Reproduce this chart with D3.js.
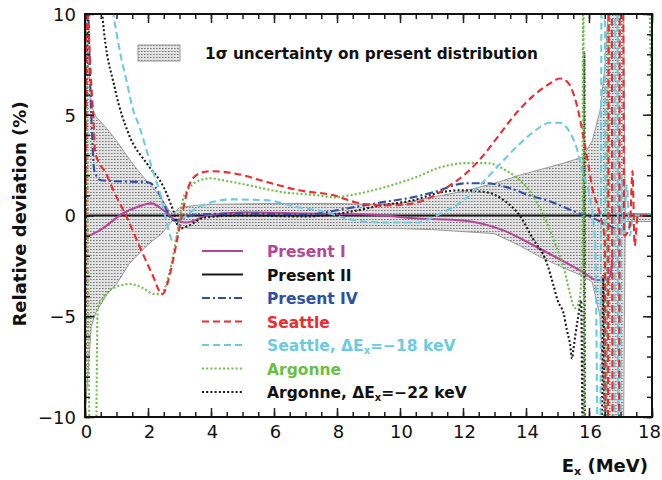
<!DOCTYPE html>
<html><head><meta charset="utf-8">
<script src="https://cdn.jsdelivr.net/npm/d3@7"></script>
<style>
body{margin:0;background:#fff;}
svg text{font-family:"DejaVu Sans",sans-serif;}
</style></head>
<body><svg id="c" width="662" height="480"></svg>
<script>
// ---------------- data ----------------
const xTicksMajor = [0,2,4,6,8,10,12,14,16,18];
const yTicksMajor = [-10,-5,0,5,10];

const bandX     = [0,0.2,0.35,0.7,1.0,1.4,1.8,2.1,2.4,2.65,2.8,3.0,3.5,4,6,8,9,10,11,12,13,13.8,14.5,15.2,15.8,16.1,16.35,16.5,16.6,17.1,17.15,18];
const bandUpper = [10,5.5,4.9,4.3,3.7,2.8,2.0,1.5,0.9,0.3,0.05,0.4,0.5,0.55,0.6,0.6,0.55,0.6,0.9,1.2,1.6,2.0,2.3,2.6,2.9,3.7,5.2,7.3,10,10,0.1,0.1];
const bandLower = [-10,-5.5,-4.8,-3.9,-3.4,-2.4,-1.75,-1.3,-0.95,-0.5,-0.2,-0.6,-0.65,-0.65,-0.65,-0.65,-0.65,-0.65,-0.7,-0.8,-0.9,-1.5,-2.1,-2.6,-3.0,-3.3,-5,-10,-10,-10,-0.3,-0.3];

const presentI = [[0,-1.1],[0.5,-0.7],[1.2,0.1],[1.7,0.45],[2.1,0.6],[2.5,0.25],[2.9,-0.25],[3.2,-0.35],[3.9,0],[5,0.15],[7,0.1],[9,0.05],[10.6,-0.15],[12,-0.25],[13.3,-0.75],[14.5,-1.7],[15.8,-2.8],[16.25,-3.2],[16.5,-3.2],[16.67,-3.0],[16.75,-2.0]];
const presentII = [[0,0],[18,0]];
const presentIV = [[0.1,10.5],[0.2,5],[0.3,2.2],[0.5,1.75],[1.0,1.7],[2.0,1.65],[2.3,1.25],[2.6,0.25],[2.8,-0.25],[3.1,-0.15],[3.5,0.05],[5,0.1],[7,0.05],[8.3,0.35],[9.4,0.65],[10.4,0.9],[11.05,1.15],[12.1,1.6],[12.76,1.6],[13.4,1.4],[14.1,1.0],[14.86,0.65],[15.3,0.35],[15.7,0.1],[16.0,-0.05],[16.5,-0.4],[16.9,-0.7]];
const seattle = [[0,-11],[0.05,11],[0.12,9],[0.2,6.5],[0.26,5],[0.32,3.2],[0.45,2.6],[0.63,2.2],[0.9,1.25],[1.33,-0.1],[1.75,-1.6],[2.13,-2.9],[2.45,-3.9],[2.7,-2.9],[2.9,-1.4],[3.1,0.2],[3.33,1.6],[3.65,2.1],[4.0,2.2],[4.7,2.1],[5.8,1.65],[6.8,1.25],[7.9,1.0],[8.6,0.65],[9.4,0.5],[10.2,0.55],[10.9,0.85],[11.5,1.4],[12.1,2.1],[12.6,2.9],[13.2,4.1],[13.7,5.1],[14.2,5.9],[14.76,6.55],[15.08,6.8],[15.33,6.6],[15.6,5.56],[15.8,4.1],[15.96,2.7],[16.1,1.4],[16.35,0.05],[16.5,-1.2],[16.53,-11],[16.6,-11],[16.63,11],[16.72,11],[16.75,-11],[16.95,-11],[16.98,11],[17.08,11],[17.12,-1],[17.3,-0.5],[17.38,2.2],[17.45,-1.5],[17.55,0],[18,0]];
const seattleShift = [[0,-11],[0.04,11],[0.8,11],[0.9,10],[1.1,8.2],[1.33,6.6],[1.5,5.4],[1.75,4.3],[2.0,3.0],[2.2,2.0],[2.4,1.0],[2.6,-0.4],[2.8,-1.3],[2.9,-1.2],[3.0,-0.4],[3.3,0.1],[3.9,0.6],[4.7,0.8],[5.8,0.75],[6.8,0.4],[7.7,0.15],[8.3,-0.15],[9.5,-0.35],[10.5,-0.35],[11.3,0.1],[12,0.74],[12.6,1.6],[13.2,2.6],[13.7,3.4],[14.2,4.1],[14.76,4.6],[15.08,4.6],[15.4,4.1],[15.6,3.4],[15.8,2.1],[16.0,1.1],[16.2,-1.5],[16.28,-11],[16.36,-11],[16.4,11],[16.5,11],[16.53,-11],[16.8,-11],[16.83,11],[16.9,11],[16.93,-11],[17.0,-11],[17.03,2],[17.1,-1],[17.2,1.5],[17.3,-1],[17.4,0],[18,0]];
const argonne = [[0,11],[0.06,6],[0.15,-11],[0.35,-11],[0.4,-4.6],[0.57,-4.1],[0.9,-3.6],[1.43,-3.4],[1.84,-3.6],[2.2,-3.9],[2.4,-3.9],[2.7,-2.7],[2.9,-1.1],[3.0,-0.2],[3.1,0.75],[3.33,1.4],[3.65,1.75],[4.0,1.85],[4.2,1.8],[5.2,1.5],[6.3,1.15],[7.4,1.0],[7.9,0.9],[8.4,1.0],[9.5,1.4],[10.5,1.9],[11.3,2.4],[12.1,2.6],[12.76,2.6],[13.4,2.2],[13.8,1.75],[14.1,1.25],[14.4,0.5],[14.7,-0.5],[14.95,-1.5],[15.2,-2.6],[15.4,-3.9],[15.55,-4.6],[15.7,-4.2],[15.78,-2],[15.82,11],[15.86,-11],[16.55,-11],[16.62,11],[17.9,11],[18,2.5]];
const argonneShift = [[0,-11],[0.1,11],[0.5,11],[0.55,10],[0.95,6.3],[1.4,4.0],[2.0,2.5],[2.5,1.4],[2.8,0.25],[3.0,-0.65],[3.3,-0.5],[3.8,-0.1],[5,0],[7,-0.05],[8.3,0.15],[9.4,0.5],[10.4,0.75],[11.3,1.15],[11.9,1.25],[12.76,1.15],[13.3,0.75],[13.8,0],[14.2,-1.1],[14.67,-2.4],[14.86,-3.4],[15.0,-4.2],[15.2,-4.9],[15.3,-5.7],[15.4,-6.4],[15.46,-7.1],[15.5,-6.7],[15.57,-5.9],[15.65,-5.1],[15.75,-4.2],[15.8,-11],[15.83,-11],[15.85,8.1],[15.87,-11],[16.4,-11],[16.45,-3],[16.5,-11]];

const seriesNames  = ["Present I","Present II","Present IV","Seattle","Seattle, ΔE|x|=−18 keV","Argonne","Argonne, ΔE|x|=−22 keV"];
const seriesColors = ["#b5479b","#1a1a1a","#2e4fa3","#ee2b2e","#6ccbe0","#6abf45","#1a1a1a"];
const seriesText   = ["#b5479b","#111","#2e4fa3","#ee2b2e","#6ccbe0","#6abf45","#111"];
const seriesDash   = [null,null,"8,3,2,3","7,4","7,4","2,2.2","2,2.2"];
const seriesData   = [presentI,presentII,presentIV,seattle,seattleShift,argonne,argonneShift];

// ---------------- chart ----------------
const svg = d3.select("#c");
const L=85,R=652,T=14,B=417;
const x = d3.scaleLinear().domain([0,18]).range([L,R]);
const y = d3.scaleLinear().domain([-10,10]).range([B,T]);

const defs = svg.append("defs");
const pat = defs.append("pattern").attr("id","hatch").attr("patternUnits","userSpaceOnUse").attr("width",3).attr("height",3);
pat.append("rect").attr("width",3).attr("height",3).attr("fill","#e2e2e2");
pat.append("rect").attr("width",1.6).attr("height",1).attr("fill","#7a7a7a");
defs.append("clipPath").attr("id","clip").append("rect").attr("x",L).attr("y",T).attr("width",R-L).attr("height",B-T);

const plot = svg.append("g").attr("clip-path","url(#clip)");
const band = bandX.map((v,i)=>[v,bandUpper[i],bandLower[i]]);
plot.append("path").datum(band)
  .attr("d",d3.area().x(d=>x(d[0])).y0(d=>y(d[2])).y1(d=>y(d[1])))
  .attr("fill","url(#hatch)").attr("stroke","#999").attr("stroke-width",1);

const line = d3.line().x(d=>x(d[0])).y(d=>y(d[1])).curve(d3.curveMonotoneX);
const order = [1,0,2,6,5,4,3];
order.forEach(i=>{
  plot.append("path").datum(seriesData[i]).attr("d",line)
    .attr("fill","none").attr("stroke",seriesColors[i])
    .attr("stroke-width",2.1)
    .attr("stroke-dasharray",seriesDash[i]);
});

// axes
const fs = 18;
const xMinor = d3.range(0,18.01,0.5);
const yMinor = d3.range(-10,10.01,1);
const gx = svg.append("g").attr("transform",`translate(0,${B})`)
  .call(d3.axisBottom(x).tickValues(xTicksMajor).tickSize(-9).tickPadding(8).tickFormat(d3.format("d")));
svg.append("g").attr("transform",`translate(0,${B})`).call(d3.axisBottom(x).tickValues(xMinor).tickSize(-5).tickFormat(""));
svg.append("g").attr("transform",`translate(0,${T})`).call(d3.axisTop(x).tickValues(xTicksMajor).tickSize(-9).tickFormat(""));
svg.append("g").attr("transform",`translate(0,${T})`).call(d3.axisTop(x).tickValues(xMinor).tickSize(-5).tickFormat(""));
const gy = svg.append("g").attr("transform",`translate(${L},0)`)
  .call(d3.axisLeft(y).tickValues(yTicksMajor).tickSize(-9).tickPadding(9).tickFormat(d3.format("d")));
svg.append("g").attr("transform",`translate(${L},0)`).call(d3.axisLeft(y).tickValues(yMinor).tickSize(-5).tickFormat(""));
svg.append("g").attr("transform",`translate(${R},0)`).call(d3.axisRight(y).tickValues(yTicksMajor).tickSize(-9).tickFormat(""));
svg.append("g").attr("transform",`translate(${R},0)`).call(d3.axisRight(y).tickValues(yMinor).tickSize(-5).tickFormat(""));
svg.selectAll(".domain").remove();
svg.selectAll(".tick line").attr("stroke","#222").attr("stroke-width",1.5);
gx.selectAll("text").attr("font-size",fs).attr("fill","#111")
  .attr("dx",d=>d===18?-3:1);
gy.selectAll("text").attr("font-size",fs).attr("fill","#111").attr("dy","0.36em");
svg.append("rect").attr("x",L).attr("y",T).attr("width",R-L).attr("height",B-T)
  .attr("fill","none").attr("stroke","#111").attr("stroke-width",2);

// axis titles
svg.append("text").attr("transform","translate(26,214) rotate(-90)").attr("text-anchor","middle")
  .attr("font-size",18).attr("font-weight","bold").attr("fill","#111").text("Relative deviation (%)");
const xt = svg.append("text").attr("x",648).attr("y",472).attr("text-anchor","end").attr("font-size",18).attr("font-weight","bold").attr("fill","#111");
xt.append("tspan").text("E");
xt.append("tspan").attr("font-size",11).attr("dy",3).text("x");
xt.append("tspan").attr("dy",-3).text(" (MeV)");

// band legend
svg.append("rect").attr("x",138).attr("y",45).attr("width",42).attr("height",16)
  .attr("fill","url(#hatch)").attr("stroke","#999");
svg.append("text").attr("x",205).attr("y",59).attr("font-size",15.3).attr("font-weight","bold").attr("fill","#111").text("1σ uncertainty on present distribution");

// series legend
const lg = svg.append("g");
seriesNames.forEach((name,i)=>{
  const yy = 251 + i*23.5;
  lg.append("line").attr("x1",202).attr("x2",243).attr("y1",yy).attr("y2",yy)
    .attr("stroke",seriesColors[i]).attr("stroke-width",2.1).attr("stroke-dasharray",seriesDash[i]);
  const t = lg.append("text").attr("x",267).attr("y",yy+6).attr("font-size",15.5).attr("font-weight","bold").attr("fill",seriesText[i]);
  const parts = name.split("|");
  t.append("tspan").text(parts[0]);
  if(parts.length>1){
    t.append("tspan").attr("font-size",10).attr("dy",3).text(parts[1]);
    t.append("tspan").attr("dy",-3).text(parts[2]);
  }
});
</script></body></html>
